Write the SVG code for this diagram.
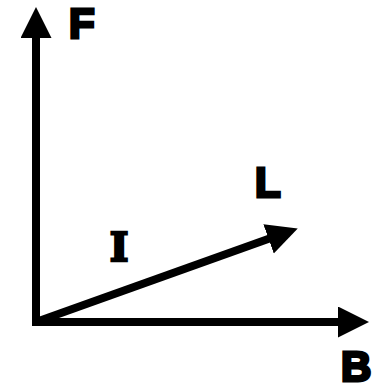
<svg xmlns="http://www.w3.org/2000/svg" width="379" height="385" viewBox="0 0 379 385">
<style>
.ln{stroke:#000;stroke-width:8;fill:none;marker-end:url(#ah)}
.lb{font-family:"Liberation Sans",Arial,sans-serif;font-weight:bold;font-size:42px;fill:#000;stroke:#000;stroke-width:3;stroke-linejoin:miter}
.ls{font-family:"DejaVu Serif",serif;font-weight:bold;font-size:40px;fill:#000;stroke:#000;stroke-width:2.5;stroke-linejoin:miter}
</style>
<defs>
<marker id="ah" markerUnits="userSpaceOnUse" markerWidth="32" markerHeight="32" refX="1" refY="15.5" orient="auto">
<path d="M0,0 L31,15.5 L0,31 z" fill="#000"/>
</marker>
</defs>
<rect width="379" height="385" fill="#fff"/>
<g id="connectors">
<line class="ln" x1="36" y1="326" x2="36" y2="37"/>
<line class="ln" x1="32" y1="322" x2="339" y2="322"/>
<line class="ln" x1="36" y1="322" x2="269.5" y2="238.6"/>
</g>
<g id="F"><text class="lb" x="69" y="38">F</text></g>
<g id="L"><text class="lb" x="255" y="197">L</text></g>
<g id="B"><text class="lb" x="341" y="381">B</text></g>
<g id="I"><text class="ls" x="119" y="261" text-anchor="middle">I</text></g>
</svg>
